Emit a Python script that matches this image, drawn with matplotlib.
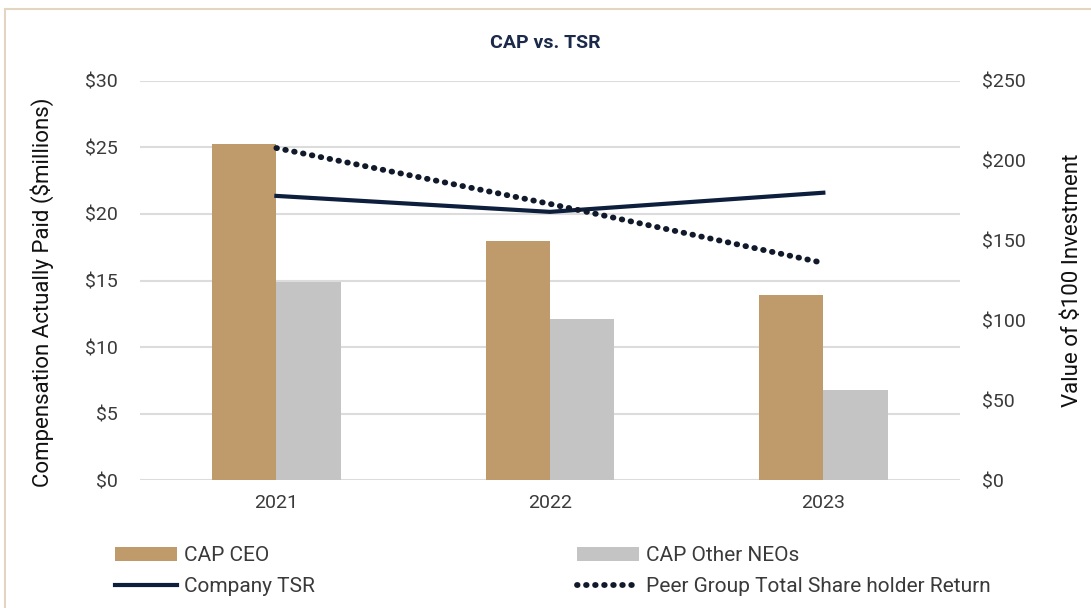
import matplotlib.pyplot as plt
import numpy as np
from matplotlib.patches import Rectangle

plt.rcParams['font.family'] = ['Roboto', 'DejaVu Sans']

# data
years = ['2021', '2022', '2023']
cap_ceo = [25.3, 18.0, 13.9]
cap_neo = [14.9, 12.1, 6.8]
company_tsr = [178, 168, 180]
peer_tsr = [208, 173, 136]
left_ticks = [0, 5, 10, 15, 20, 25, 30]
right_ticks = [0, 50, 100, 150, 200, 250]

tan = '#BF9B6C'
grey = '#C4C4C4'
navy = '#0E1F3D'
txt = '#3A3A3A'

fig = plt.figure(figsize=(10.91, 6.08), dpi=100)
ax = fig.add_axes([0.128, 0.2105, 0.752, 0.6563])
x = np.arange(len(years))
w = 0.235
b1 = ax.bar(x - w/2, cap_ceo, w, color=tan, label='CAP CEO', zorder=2)
b2 = ax.bar(x + w/2, cap_neo, w, color=grey, label='CAP Other NEOs', zorder=2)
ax.set_xlim(-0.5, 2.5)
ax.set_ylim(0, 30)
ax.set_yticks(left_ticks)
ax.set_yticklabels([r'\$%d' % t for t in left_ticks])
ax.set_xticks(x)
ax.set_xticklabels(years)
ax.grid(axis='y', color='#DCDCDC', linewidth=1.5, zorder=0)
ax.set_axisbelow(True)
for s in ax.spines.values():
    s.set_visible(False)
ax.tick_params(length=0, labelsize=14, colors=txt, pad=10)
ax.tick_params(axis='y', pad=16)
ax.set_ylabel(r'Compensation Actually Paid (\$millions)', fontsize=16, color='#111111')
ax.yaxis.set_label_coords(-0.104, 0.47)

ax2 = ax.twinx()
ax2.set_ylim(0, 250)
ax2.set_yticks(right_ticks)
ax2.set_yticklabels([r'\$%d' % t for t in right_ticks])
l1, = ax2.plot(x, company_tsr, color=navy, lw=3, label='Company TSR', zorder=3)
l2, = ax2.plot(x, peer_tsr, color='#111a2a', lw=4.2, linestyle=(0, (0.1, 1.45)),
               dash_capstyle='round', label='Peer Group Total Share holder Return', zorder=3)
for s in ax2.spines.values():
    s.set_visible(False)
ax2.tick_params(length=0, labelsize=14, colors=txt, pad=16)
ax2.set_ylabel(r'Value of \$100 Investment', fontsize=16, color='#111111', labelpad=26)

fig.text(0.5, 0.93, 'CAP vs. TSR', ha='center', va='center', fontsize=14,
         fontweight='bold', color='#1B2A4A')

leg = fig.legend([b1, l1, b2, l2],
                 ['CAP CEO', 'Company TSR', 'CAP Other NEOs', 'Peer Group Total Share holder Return'],
                 loc='lower left', bbox_to_anchor=(0.088, -0.011), ncol=2, frameon=False,
                 fontsize=15, columnspacing=12.6, handlelength=3.0, handletextpad=0.3,
                 labelspacing=0.55, labelcolor=txt)

fig.patches.append(Rectangle((0.005, -0.01), 1.2, 0.995, transform=fig.transFigure,
                             fill=False, edgecolor='#E3D5BF', lw=1.5))

fig.savefig('out.png', dpi=100)
